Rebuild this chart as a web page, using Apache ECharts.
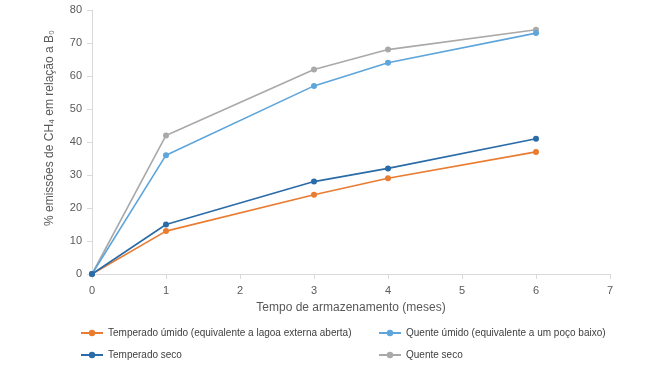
<!DOCTYPE html>
<html><head><meta charset="utf-8">
<script src="https://cdn.jsdelivr.net/npm/echarts@6/dist/echarts.min.js"></script>
<style>html,body{margin:0;padding:0;background:#fff}#c{width:650px;height:366px}</style>
</head><body><div id="c"></div>
<script>
const months = [0, 1, 3, 4, 6];
const temperadoUmido = [0, 13, 24, 29, 37];
const quenteUmido = [0, 36, 57, 64, 73];
const temperadoSeco = [0, 15, 28, 32, 41];
const quenteSeco = [0, 42, 62, 68, 74];
const names = [
  'Temperado úmido (equivalente a lagoa externa aberta)',
  'Quente úmido (equivalente a um poço baixo)',
  'Temperado seco',
  'Quente seco'
];
const yTitle = '% emissões de CH₄ em relação a B₀';
const xTitle = 'Tempo de armazenamento (meses)';
const colors = ['#E97C30', '#5DA5DA', '#2A6BA8', '#A9A9A9'];
const pair = arr => months.map((m, i) => [m, arr[i]]);
const chart = echarts.init(document.getElementById('c'));
const mk = (name, arr, color, z) => ({
  name, type: 'line', data: pair(arr), symbol: 'circle', symbolSize: 6, z,
  lineStyle: { color, width: 1.6 }, itemStyle: { color }
});
const font = 'Liberation Sans, Arial, sans-serif';
const legendCommon = { orient: 'vertical', top: 323, itemGap: 12, itemWidth: 22, itemHeight: 8,
  textStyle: { color: '#404040', fontSize: 10, fontFamily: font } };
chart.setOption({
  animation: false,
  textStyle: { fontFamily: font },
  grid: { left: 92, right: 40, top: 10, bottom: 92 },
  graphic: [{
    type: 'text', x: 50, y: 128, rotation: Math.PI / 2,
    style: { text: yTitle, fill: '#595959', font: '12px ' + font, align: 'center', verticalAlign: 'middle' }
  }],
  xAxis: {
    type: 'value', min: 0, max: 7, interval: 1,
    name: xTitle, nameLocation: 'middle', nameGap: 28,
    nameTextStyle: { color: '#595959', fontSize: 12, fontFamily: font },
    axisLine: { lineStyle: { color: '#D9D9D9' } },
    axisTick: { show: true, lineStyle: { color: '#D9D9D9' }, length: 5 },
    axisLabel: { color: '#595959', fontSize: 11, margin: 11 },
    splitLine: { show: false }
  },
  yAxis: {
    type: 'value', min: 0, max: 80, interval: 10,
    axisLine: { show: true, lineStyle: { color: '#D9D9D9' } },
    axisTick: { show: true, lineStyle: { color: '#D9D9D9' }, length: 5 },
    axisLabel: { color: '#595959', fontSize: 11, margin: 10 },
    splitLine: { show: false }
  },
  legend: [
    Object.assign({ data: [names[0], names[2]], left: 75 }, legendCommon),
    Object.assign({ data: [names[1], names[3]], left: 373 }, legendCommon)
  ],
  series: [
    mk(names[0], temperadoUmido, colors[0], 2),
    mk(names[1], quenteUmido, colors[1], 3),
    mk(names[2], temperadoSeco, colors[2], 4),
    mk(names[3], quenteSeco, colors[3], 1)
  ]
});
</script></body></html>
